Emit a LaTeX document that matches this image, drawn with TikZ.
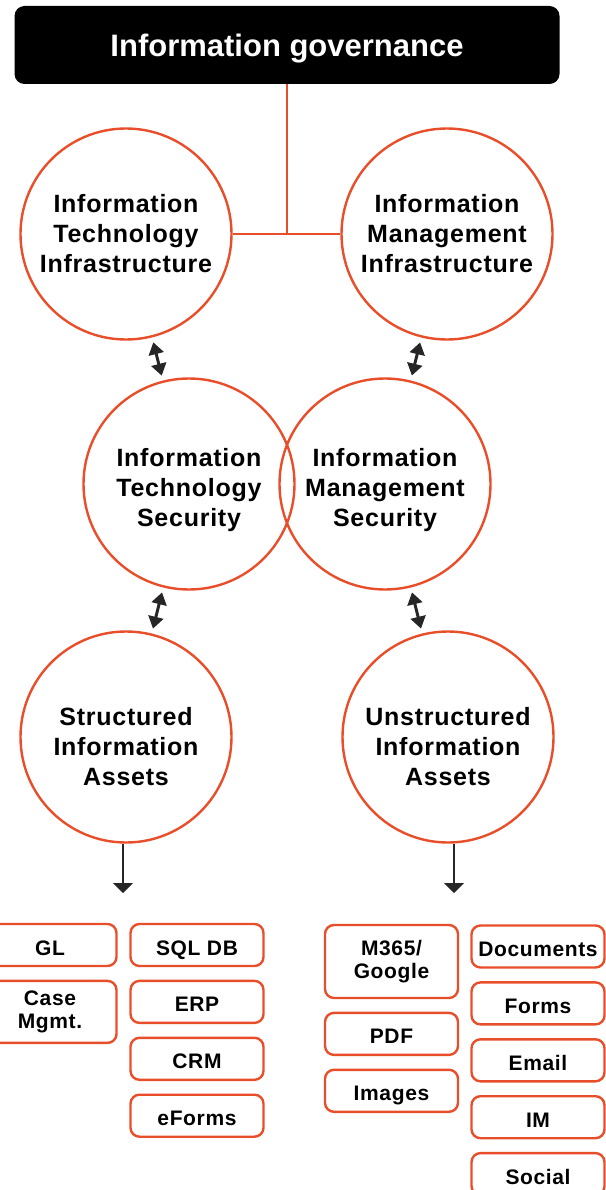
\documentclass[tikz,border=0pt]{standalone}
\usepackage{fontspec}
\setmainfont{Liberation Sans}[LetterSpace=3]
\newfontfamily\govfont{Liberation Sans}
\usetikzlibrary{positioning, arrows.meta}
\definecolor{igorange}{HTML}{E94E2B}
\definecolor{igdark}{HTML}{262626}

\begin{document}
\begin{tikzpicture}[x=1pt, y=-1pt, node distance=12.5pt,
	ring/.style={circle, draw=igorange, line width=2.4pt, minimum size=211pt, inner sep=0pt, align=center, font=\fontsize{25}{30}\selectfont\bfseries},
	tagbase/.style={draw=igorange, line width=2.4pt, rounded corners=9pt, minimum width=133pt, minimum height=42pt, inner sep=2pt, align=center, font=\fontsize{21}{23}\selectfont\bfseries},
	tag/.style={tagbase, text height=20pt, text depth=0pt},
	link/.style={draw=igorange, line width=2pt},
	both/.style={igdark, line width=3pt, {Triangle[width=15pt, length=12pt]}-{Triangle[width=15pt, length=12pt]}, shorten >=5pt, shorten <=5pt},
	down/.style={igdark, line width=2pt, -{Triangle[width=20pt, length=10pt]}}]
		\useasboundingbox (0,0) rectangle (605,1190);

		\node[fill=black, rounded corners=10pt, minimum width=545pt, minimum height=78pt, text depth=0pt, text=white, font={\govfont\fontsize{31}{36}\selectfont\bfseries}] (gov) at (287,45) {Information governance};

		\node[ring] (iti) at (126,234) {Information\\Technology\\Infrastructure};
		\node[ring] (imi) at (447,234) {Information\\Management\\Infrastructure};
		\node[ring] (its) at (189,484) {\rule{0pt}{31pt}Information\\Technology\\Security};
		\node[ring] (ims) at (385,484) {\rule{0pt}{31pt}Information\\Management\\Security};
		\node[ring] (sia) at (126,737) {\rule{0pt}{38pt}Structured\\Information\\Assets};
		\node[ring] (uia) at (448,737) {\rule{0pt}{38pt}Unstructured\\Information\\Assets};

		\draw[link] (gov.south) -- (gov.south |- iti.center);
		\draw[link] (iti) -- (imi);

		\draw[both] (iti) -- (its);
		\draw[both] (imi) -- (ims);
		\draw[both] (its) -- (sia);
		\draw[both] (ims) -- (uia);

		\coordinate (sia-out) at (123,893);
		\coordinate (uia-out) at (454,893);
		\draw[down] (sia.south -| sia-out) -- (sia-out);
		\draw[down] (uia.south -| uia-out) -- (uia-out);

		\node[tag] (gl) at (50,945) {GL};
		\node[tagbase, minimum height=62pt, below=of gl] (case) {Case\\Mgmt.};

		\node[tag] (sql) at (197,945) {SQL DB};
		\node[tag, below=of sql] (erp) {ERP};
		\node[tag, below=of erp] (crm) {CRM};
		\node[tag, below=of crm] (eforms) {eForms};

		\node[tagbase, minimum height=73pt] (m365) at (391.5,961.5) {M365/\\Google};
		\node[tag, below=of m365] (pdf) {PDF};
		\node[tag, below=of pdf] (images) {Images};

		\node[tag] (docs) at (538,946.5) {Documents};
		\node[tag, below=of docs] (forms) {Forms};
		\node[tag, below=of forms] (email) {Email};
		\node[tag, below=of email] (im) {IM};
		\node[tag, below=of im] (social) {Social};
	\end{tikzpicture}
\end{document}
